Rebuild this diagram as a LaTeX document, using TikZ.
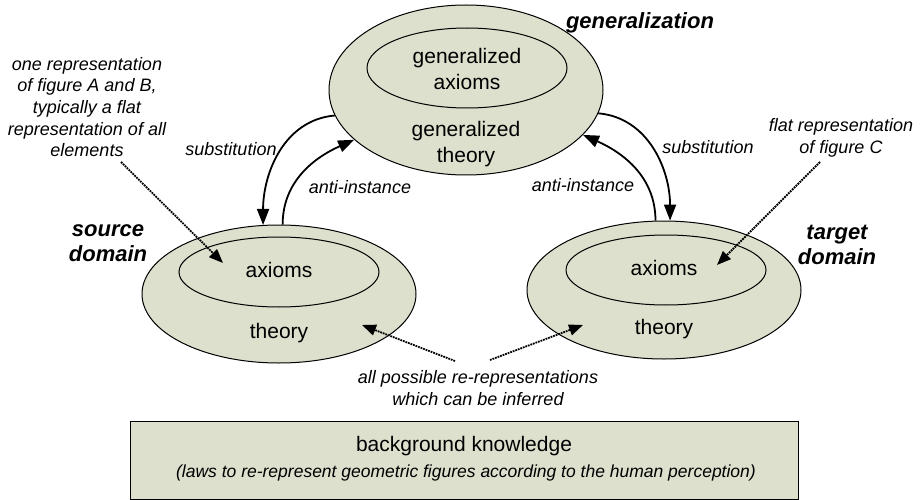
\documentclass[tikz,border=0pt]{standalone}
\usepackage{fontspec}
\setmainfont{Liberation Sans}
\usetikzlibrary{shapes.geometric,arrows.meta}
\definecolor{fillg}{RGB}{221,224,204}
\begin{document}
\begin{tikzpicture}[x=1pt,y=1pt,
 outer/.style={ellipse,draw=black,line width=1pt,fill=fillg,inner sep=0pt},
 innerell/.style={ellipse,draw=black,line width=1pt,inner sep=0pt},
 lbl/.style={font=\fontsize{21}{26}\selectfont,align=center,inner sep=0pt},
 ital/.style={font=\fontsize{18}{21.7}\selectfont\itshape,align=center,inner sep=0pt},
 bolditl/.style={font=\fontsize{22}{25}\selectfont\bfseries\itshape,align=center,inner sep=0pt},
 flow/.style={line width=1.8pt,-{Triangle[length=16pt,width=12pt]}},
 dots/.style={line width=1.8pt,dash pattern=on 1.8pt off 0.9pt,-{Triangle[length=14pt,width=11pt]}}]
\useasboundingbox (0,0) rectangle (924,-500);

% generalization
\node[outer,minimum width=274pt,minimum height=170pt] (gen) at (466,-90) {};
\node[innerell,minimum width=200pt,minimum height=80pt] (genax) at (467,-68) {};
\node[lbl] (genaxt) at (467,-68.5) {generalized\\axioms};
\node[lbl] (genth) at (466,-144) {generalized\\theory};

% source
\node[outer,minimum width=274pt,minimum height=138pt] (src) at (279,-294) {};
\node[innerell,minimum width=200pt,minimum height=70pt] (srcax) at (279,-272) {};
\node[lbl] (srcaxt) at (279,-270) {axioms};
\node[lbl] (srcth) at (279,-333) {theory};

% target
\node[outer,minimum width=274pt,minimum height=138pt] (tgt) at (664,-290) {};
\node[innerell,minimum width=200pt,minimum height=70pt] (tgtax) at (666,-270) {};
\node[lbl] (tgtaxt) at (664,-268) {axioms};
\node[lbl] (tgtth) at (664,-329) {theory};

% background
\node[draw=black,line width=1pt,fill=fillg,minimum width=668pt,minimum height=78pt,inner sep=0pt] (bg) at (464,-460) {};
\node[lbl] (bgt) at (464,-446) {background knowledge};
\node[ital,font=\fontsize{17.5}{21}\selectfont\itshape] (bgl) at (466,-473) {(laws to re-represent geometric figures according to the human perception)};

% labels
\node[bolditl] (genlbl) at (640,-23) {generalization};
\node[bolditl] (srclbl) at (108,-243) {source\\domain};
\node[bolditl] (tgtlbl) at (837,-245) {target\\domain};
\node[ital] (ann1) at (87,-107) {one representation\\of figure A and B,\\typically a flat\\representation of all\\elements};
\node[ital] (ann2) at (841,-138) {flat representation\\of figure C};
\node[ital] (ann3) at (478,-388) {all possible re-representations\\which can be inferred};
\node[ital] (subl) at (231,-149) {substitution};
\node[ital] (subr) at (708,-147) {substitution};
\node[ital] (antil) at (360,-187) {anti-instance};
\node[ital] (antir) at (583,-185) {anti-instance};

% flows
\draw[flow] (gen.191.5) to[out=185,in=90] (src.103);
\draw[flow] (src.87) to[out=90,in=204] (gen.204);
\draw[flow] (gen.350) to[out=-5,in=90] (tgt.85);
\draw[flow] (tgt.97) to[out=90,in=336] (gen.339.5);

% dotted annotation arrows
\coordinate (d1s) at (121,-162);
\coordinate (d1e) at (223,-263);
\coordinate (d2s) at (820,-162);
\coordinate (d2e) at (717,-265);
\coordinate (d3s) at (455,-361);
\coordinate (d3e) at (362,-325);
\coordinate (d4s) at (490,-360);
\coordinate (d4e) at (583,-325);
\draw[dots] (d1s) -- (d1e);
\draw[dots] (d2s) -- (d2e);
\draw[dots] (d3s) -- (d3e);
\draw[dots] (d4s) -- (d4e);
\end{tikzpicture}
\end{document}
